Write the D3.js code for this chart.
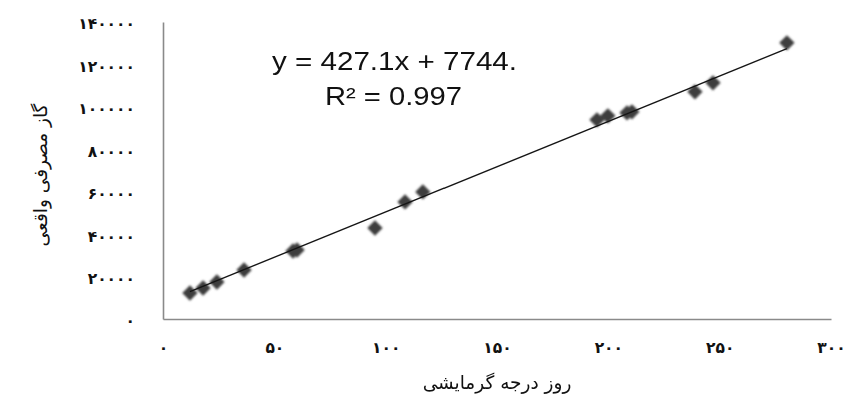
<!DOCTYPE html>
<html>
<head>
<meta charset="utf-8">
<script src="https://cdn.jsdelivr.net/npm/d3@7"></script>
<style>
  html, body { margin: 0; padding: 0; background: #fff; }
  svg { display: block; }
</style>
</head>
<body>
<svg id="chart" width="845" height="403"></svg>
<script>
// Heating degree days vs. actual gas consumption
const heatingDegreeDays = [12.1, 18.0, 24.2, 36.4, 58.4, 60.2, 95.2, 108.7, 116.7, 194.9, 199.8, 208.4, 210.6, 238.9, 247.0, 280.2];
const gasConsumption    = [12260, 14620, 17450, 23110, 32070, 32550, 42920, 55190, 59910, 93870, 95750, 97170, 97640, 107080, 111320, 130190];

// Linear trend line stated on the chart
const trendSlope = 427.1;
const trendIntercept = 7744;
const trendEquation = "y = 427.1x + 7744.";
const trendR2 = "R² = 0.997";

const xTickValues = [0, 50, 100, 150, 200, 250, 300];
const xTickLabels = ["۰", "۵۰", "۱۰۰", "۱۵۰", "۲۰۰", "۲۵۰", "۳۰۰"];
const yTickValues = [0, 20000, 40000, 60000, 80000, 100000, 120000, 140000];
const yTickLabels = ["۰", "۲۰۰۰۰", "۴۰۰۰۰", "۶۰۰۰۰", "۸۰۰۰۰", "۱۰۰۰۰۰", "۱۲۰۰۰۰", "۱۴۰۰۰۰"];

const xTitle = "روز درجه گرمایشی";
const yTitle = "گاز مصرفی واقعی";

const svg = d3.select("#chart");

const x = d3.scaleLinear().domain([0, 300]).range([163, 831]);
const y = d3.scaleLinear().domain([0, 140000]).range([319, 22]);

// soft edge on the markers
const defs = svg.append("defs");
defs.append("filter").attr("id", "soft")
  .attr("x", "-50%").attr("y", "-50%").attr("width", "200%").attr("height", "200%")
  .append("feGaussianBlur").attr("stdDeviation", 0.9);

const tickFont = "'DejaVu Sans', sans-serif";

// axes
const xAxis = d3.axisBottom(x)
  .tickValues(xTickValues)
  .tickFormat((d, i) => xTickLabels[i])
  .tickSize(0).tickPadding(26);
const yAxis = d3.axisLeft(y)
  .tickValues(yTickValues)
  .tickFormat((d, i) => yTickLabels[i])
  .tickSize(0).tickPadding(28);

const gx = svg.append("g").attr("transform", `translate(0,${y(0)})`).call(xAxis);
const gy = svg.append("g").attr("transform", `translate(${x(0)},0)`).call(yAxis);

[gx, gy].forEach(g => {
  g.select(".domain").attr("stroke", "#8a8a8a").attr("stroke-width", 1.6);
  g.selectAll("text")
    .attr("font-family", tickFont)
    .attr("font-size", 15.5)
    .attr("font-weight", "bold")
    .attr("fill", "#111");
});
gy.selectAll("text").attr("dy", "0.45em");
gx.selectAll("text").attr("dy", "0.5em");

// markers: rotated squares
const diamond = {
  draw(ctx, size) {
    const r = Math.sqrt(size) / 2 * Math.SQRT2;
    ctx.moveTo(0, -r); ctx.lineTo(r, 0); ctx.lineTo(0, r); ctx.lineTo(-r, 0); ctx.closePath();
  }
};
const points = heatingDegreeDays.map((d, i) => ({ x: d, y: gasConsumption[i] }));

svg.append("g").attr("filter", "url(#soft)")
  .selectAll("path")
  .data(points)
  .join("path")
  .attr("transform", d => `translate(${x(d.x)},${y(d.y)})`)
  .attr("d", d3.symbol(diamond, 118)())
  .attr("fill", "#3d3d3d");

// trend line over the data range
const xr = d3.extent(heatingDegreeDays);
svg.append("line")
  .attr("x1", x(xr[0])).attr("y1", y(trendSlope * xr[0] + trendIntercept))
  .attr("x2", x(xr[1])).attr("y2", y(trendSlope * xr[1] + trendIntercept))
  .attr("stroke", "#151515").attr("stroke-width", 1.4);

// equation labels
svg.append("text")
  .attr("x", 272).attr("y", 70)
  .attr("textLength", 245).attr("lengthAdjust", "spacingAndGlyphs")
  .attr("font-family", "'Liberation Sans', Arial, sans-serif")
  .attr("font-size", 26).attr("fill", "#111")
  .text(trendEquation);
svg.append("text")
  .attr("x", 325).attr("y", 105)
  .attr("textLength", 137).attr("lengthAdjust", "spacingAndGlyphs")
  .attr("font-family", "'Liberation Sans', Arial, sans-serif")
  .attr("font-size", 26).attr("fill", "#111")
  .text(trendR2);

// axis titles
svg.append("text")
  .attr("x", 497).attr("y", 389)
  .attr("text-anchor", "middle")
  .attr("font-family", tickFont)
  .attr("font-size", 18.5).attr("fill", "#111")
  .text(xTitle);
svg.append("text")
  .attr("transform", "translate(47,175) rotate(-90)")
  .attr("text-anchor", "middle")
  .attr("font-family", tickFont)
  .attr("font-size", 18.5).attr("fill", "#111")
  .text(yTitle);
</script>
</body>
</html>
